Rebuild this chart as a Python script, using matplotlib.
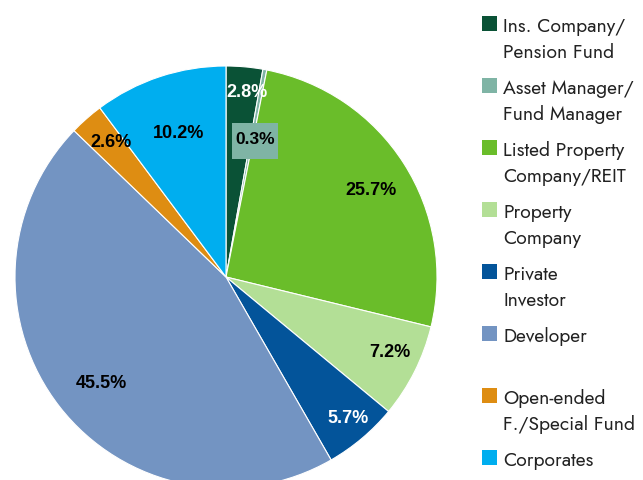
import matplotlib
matplotlib.use("Agg")
import matplotlib.pyplot as plt
from matplotlib.patches import Rectangle
from matplotlib import font_manager

categories = ["Ins. Company/\nPension Fund", "Asset Manager/\nFund Manager",
              "Listed Property\nCompany/REIT", "Property\nCompany",
              "Private\nInvestor", "Developer",
              "Open-ended\nF./Special Fund", "Corporates"]
values = [2.8, 0.3, 25.7, 7.2, 5.7, 45.5, 2.6, 10.2]
colors = ["#0a5236", "#7fb4a5", "#6abd2a", "#b3df96",
          "#03549a", "#7394c2", "#de8d12", "#00aeef"]
label_colors = ["white", "black", "black", "black", "white", "black", "black", "black"]
# label positions (data units, pie radius = 1)
label_pos = [(0.10, 0.88), (0.137, 0.655), (0.687, 0.417), (0.777, -0.355),
             (0.578, -0.668), (-0.59, -0.498), (-0.545, 0.64), (-0.223, 0.687)]

names = {f.name for f in font_manager.fontManager.ttflist}
leg_family = next((f for f in ["Jost", "Futura", "Century Gothic", "Lato"] if f in names), "DejaVu Sans")

W, H = 643, 481
fig = plt.figure(figsize=(W / 100, H / 100), dpi=100)
cx, cy, R = 226, 278, 211
ax = fig.add_axes([(cx - R) / W, (H - cy - R) / H, 2 * R / W, 2 * R / H])
ax.pie(values, colors=colors, startangle=90, counterclock=False, radius=1,
       wedgeprops=dict(edgecolor="white", linewidth=0.8))
ax.set_xlim(-1, 1)
ax.set_ylim(-1, 1)
ax.set_axis_off()

# background box of the small 0.3% label
bw, bh = 46 / R, 36 / R
bx, by = label_pos[1][0], label_pos[1][1] - 2 / R
ax.add_patch(Rectangle((bx - bw / 2, by - bh / 2), bw, bh, facecolor=colors[1],
                       edgecolor="none", zorder=3))

for i, (v, (x, y)) in enumerate(zip(values, label_pos)):
    ax.text(x, y, f"{v:.1f}%", ha="center", va="center",
            fontsize=12.5 if i == 1 else 13,
            fontweight="bold", family="Liberation Sans", color=label_colors[i],
            zorder=4)

# legend
top0 = 17
step = 62
line_h = 26
for i, (lab, c) in enumerate(zip(categories, colors)):
    t = top0 + i * step
    fig.add_artist(Rectangle((482 / W, 1 - (t + 15) / H), 15 / W, 15 / H,
                             facecolor=c, edgecolor="none", transform=fig.transFigure))
    for k, line in enumerate(lab.split("\n")):
        fig.text(503 / W, 1 - (t + 14.7 + k * line_h) / H, line, ha="left",
                 va="baseline", fontsize=13.9, family=leg_family, color="#222222")

fig.savefig("out.png", dpi=100)
